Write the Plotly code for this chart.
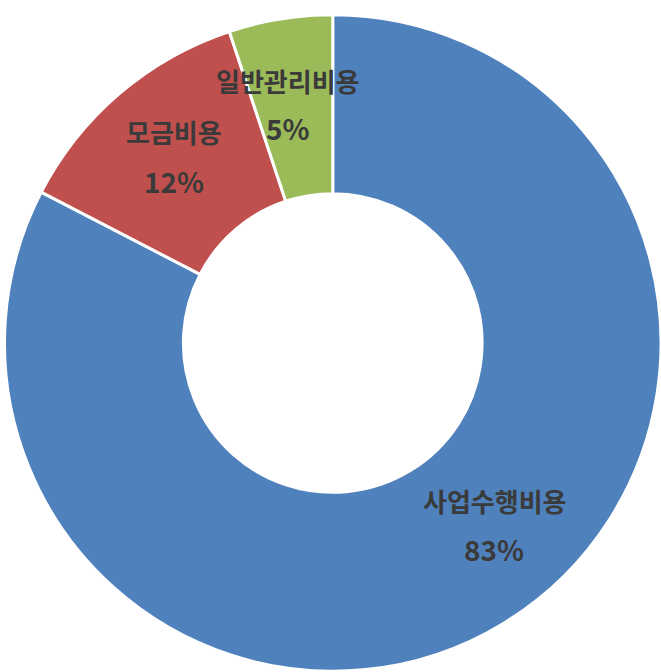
import plotly.graph_objects as go

labels = ["사업수행비용", "모금비용", "일반관리비용"]
values = [82.6, 12.3, 5.1]
pct_text = ["83%", "12%", "5%"]
colors = ["#4F81BD", "#C0504D", "#9BBB59"]

W, H = 661, 672
cx, cy, R = 333.5, 343, 329

fig = go.Figure(go.Pie(
    labels=labels,
    values=values,
    sort=False,
    direction="clockwise",
    rotation=0,
    hole=0.455,
    marker=dict(colors=colors, line=dict(color="white", width=3)),
    textinfo="none",
    showlegend=False,
    domain=dict(x=[max(0, cx - R) / W, min(W, cx + R) / W],
                y=[max(0, H - cy - R) / H, min(H, H - cy + R) / H]),
))

name_pos = [(495, 500), (174, 132), (288, 80)]
pct_pos = [(494, 549), (174, 181), (288, 128)]

name_font = dict(family="Noto Sans CJK KR", size=26, color="#3a3a3a")
pct_font = dict(family="Noto Sans CJK KR", size=28, color="#3a3a3a")
for name, p, (nx, ny), (px, py) in zip(labels, pct_text, name_pos, pct_pos):
    fig.add_annotation(x=nx / W, y=1 - ny / H, xref="paper", yref="paper",
                       text=f"<b>{name}</b>", showarrow=False, font=name_font,
                       xanchor="center", yanchor="middle")
    fig.add_annotation(x=px / W, y=1 - py / H, xref="paper", yref="paper",
                       text=f"<b>{p}</b>", showarrow=False, font=pct_font,
                       xanchor="center", yanchor="middle")

fig.update_layout(width=W, height=H, margin=dict(l=0, r=0, t=0, b=0),
                  paper_bgcolor="white", plot_bgcolor="white")
fig.write_html("out.html", config={"displayModeBar": False},
               post_script="document.body.style.margin='0';")
